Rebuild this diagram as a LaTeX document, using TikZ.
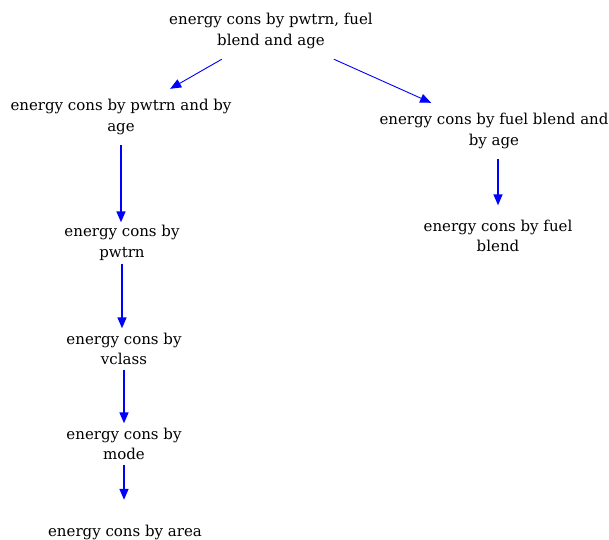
\documentclass[tikz,border=0pt]{standalone}
\usepackage{fontspec}
\setmainfont{DejaVu Serif}
\usetikzlibrary{arrows.meta}

\tikzset{
  box/.style={align=center, inner sep=0pt, font=\fontsize{15}{20.5}\selectfont},
  flow/.style={blue, line width=1.5pt, -{Triangle[length=11pt,width=9pt]}},
}

\begin{document}
\begin{tikzpicture}[x=1pt,y=-1pt]
\useasboundingbox (0,0) rectangle (609,539);

\node[box, minimum height=56pt] (all) at (271,31) {energy cons by pwtrn, fuel\\blend and age};
\node[box, minimum height=56pt] (pwage) at (121,117) {energy cons by pwtrn and by\\age};
\node[box, minimum height=56pt] (fbage) at (494,131) {energy cons by fuel blend and\\by age};
\node[box, minimum height=41pt] (pwtrn) at (122,243) {energy cons by\\pwtrn};
\node[box, minimum height=61pt] (fblend) at (498,236) {energy cons by fuel\\blend};
\node[box, minimum height=41pt] (vclass) at (124,349) {energy cons by\\vclass};
\node[box, minimum height=41pt] (mode) at (124,444) {energy cons by\\mode};
\node[box, minimum height=64pt] (area) at (125,532) {energy cons by area};

\draw[flow, line width=0.9pt] (all) -- (pwage);
\draw[flow, line width=0.9pt] (all) -- (fbage);
\draw[flow] (pwage) -- (pwage |- pwtrn.north);
\draw[flow] (pwtrn.north |- pwtrn.south) -- (pwtrn.north |- vclass.north);
\draw[flow] (vclass.north |- vclass.south) -- (vclass.north |- mode.north);
\draw[flow] (mode.north |- mode.south) -- (mode.north |- area.north);
\draw[flow] (fblend.north |- fbage.south) -- (fblend);

\end{tikzpicture}
\end{document}
